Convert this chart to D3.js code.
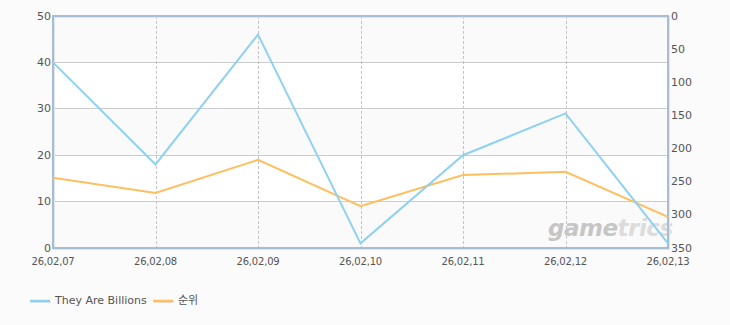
<!DOCTYPE html>
<html><head><meta charset="utf-8">
<script src="https://cdn.jsdelivr.net/npm/d3@7"></script>
<style>
html,body{margin:0;padding:0;background:#fbfbfb;}
text{font-family:"DejaVu Sans","Noto Sans CJK KR",sans-serif;}
</style></head>
<body><svg id="c" width="730" height="325"></svg>
<script>
const categories = ["26,02,07","26,02,08","26,02,09","26,02,10","26,02,11","26,02,12","26,02,13"];
const seriesBlue = [40, 18, 46, 1, 20, 29, 1];
const seriesRank = [244, 267, 217, 287, 240, 235, 303];
const leftTicks = [0, 10, 20, 30, 40, 50];
const rightTicks = [0, 50, 100, 150, 200, 250, 300, 350];
const seriesNames = ["They Are Billions", "순위"];
const colors = ["#8ed1f0", "#fdbf5f"];

const svg = d3.select("#c");
const m = {l:53, r:668, t:16, b:248};
const x = d3.scalePoint().domain(categories).range([m.l, m.r]);
const yL = d3.scaleLinear().domain([0,50]).range([m.b, m.t]);
const yR = d3.scaleLinear().domain([0,350]).range([m.t, m.b]);

svg.append("rect").attr("width",730).attr("height",325).attr("fill","#fbfbfb");
// bands
for (let i=0;i<leftTicks.length-1;i++){
  svg.append("rect").attr("x",m.l).attr("width",m.r-m.l)
    .attr("y",yL(leftTicks[i+1])).attr("height",yL(leftTicks[i])-yL(leftTicks[i+1]))
    .attr("fill", i%2===0 ? "#fafafa" : "#ffffff");
}
// horizontal grid
svg.append("g").selectAll("line").data(leftTicks.slice(1,-1)).join("line")
  .attr("x1",m.l).attr("x2",m.r).attr("y1",d=>yL(d)).attr("y2",d=>yL(d))
  .attr("stroke","#cccccc").attr("stroke-width",1).attr("shape-rendering","crispEdges");
// vertical dashed grid
svg.append("g").selectAll("line").data(categories.slice(1,-1)).join("line")
  .attr("x1",d=>Math.round(x(d))+0.5).attr("x2",d=>Math.round(x(d))+0.5).attr("y1",m.t).attr("y2",m.b)
  .attr("stroke","#c4c4c4").attr("stroke-dasharray","3,2");

// watermark
const wm = svg.append("text").attr("x",548).attr("y",236).attr("font-size",23).attr("font-weight","bold")
  .attr("font-style","italic").attr("fill","#c6c6c6").attr("font-family","Verdana, DejaVu Sans, sans-serif").attr("letter-spacing",-0.5);
wm.append("tspan").text("game");
wm.append("tspan").attr("fill","#dcdcdc").text("trics");

// frame shadow + frame
svg.append("rect").attr("x",m.l+1).attr("y",m.t+1).attr("width",m.r-m.l).attr("height",m.b-m.t)
  .attr("fill","none").attr("stroke","#e2e6ea").attr("stroke-width",2);
svg.append("rect").attr("x",m.l).attr("y",m.t).attr("width",m.r-m.l).attr("height",m.b-m.t)
  .attr("fill","none").attr("stroke","#a9bdd2").attr("stroke-width",2);

// lines
const lineL = d3.line().x((d,i)=>x(categories[i])).y(d=>yL(d));
const lineR = d3.line().x((d,i)=>x(categories[i])).y(d=>yR(d));
svg.append("path").datum(seriesRank).attr("d",lineR).attr("fill","none")
  .attr("stroke",colors[1]).attr("stroke-width",2);
svg.append("path").datum(seriesBlue).attr("d",lineL).attr("fill","none")
  .attr("stroke",colors[0]).attr("stroke-width",2);

// axes labels
const fs = 11, tc = "#555";
svg.append("g").selectAll("text").data(leftTicks).join("text")
  .attr("x",m.l-2).attr("y",d=>yL(d)+3.5).attr("text-anchor","end")
  .attr("font-size",fs).attr("fill",tc).text(d=>d);
svg.append("g").selectAll("text").data(rightTicks).join("text")
  .attr("x",m.r+3).attr("y",d=>yR(d)+3.5).attr("text-anchor","start")
  .attr("font-size",fs).attr("fill",tc).text(d=>d);
svg.append("g").selectAll("text").data(categories).join("text")
  .attr("x",d=>x(d)).attr("y",m.b+17).attr("text-anchor","middle")
  .attr("font-size",10).attr("fill",tc).attr("letter-spacing",-0.2).text(d=>d);

// legend
const leg = [{x:30, name:seriesNames[0], c:colors[0]},{x:153, name:seriesNames[1], c:colors[1]}];
leg.forEach(l=>{
  svg.append("line").attr("x1",l.x+1).attr("x2",l.x+21).attr("y1",302).attr("y2",302).attr("stroke","#e4e4e4").attr("stroke-width",2);
  svg.append("line").attr("x1",l.x).attr("x2",l.x+20).attr("y1",301).attr("y2",301).attr("stroke",l.c).attr("stroke-width",2.5);
  svg.append("text").attr("x",l.x+25).attr("y",304).attr("font-size",11).attr("fill",tc).text(l.name);
});
</script></body></html>
